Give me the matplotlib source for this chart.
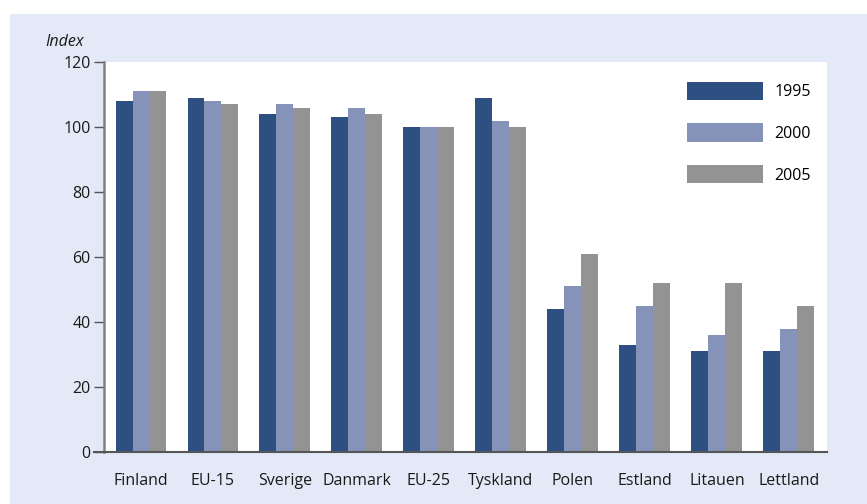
import numpy as np
import matplotlib
matplotlib.use("Agg")
import matplotlib.pyplot as plt
from matplotlib.patches import Rectangle

plt.rcParams['font.family'] = ['Open Sans', 'DejaVu Sans']

countries = ["Finland", "EU-15", "Sverige", "Danmark", "EU-25",
             "Tyskland", "Polen", "Estland", "Litauen", "Lettland"]
years = ["1995", "2000", "2005"]
idx_1995 = [108, 109, 104, 103, 100, 109, 44, 33, 31, 31]
idx_2000 = [111, 108, 107, 106, 100, 102, 51, 45, 36, 38]
idx_2005 = [111, 107, 106, 104, 100, 100, 61, 52, 52, 45]
yticks = [0, 20, 40, 60, 80, 100, 120]

colors = ["#2e4f82", "#8593b8", "#939393"]
bg = "#e3e9f6"
fs = 11.5

fig = plt.figure(figsize=(8.67, 5.04), dpi=100)
fig.patch.set_facecolor("white")
# light blue panel behind the chart
fig.patches.append(Rectangle((10 / 867, 0), 1, 1 - 14 / 504, transform=fig.transFigure,
                             facecolor=bg, edgecolor="none", zorder=-10))

ax = fig.add_axes([104 / 867, 52 / 504, 723 / 867, 390 / 504])
ax.set_facecolor("white")

x = np.arange(len(countries))
w = 0.236
for k, (vals, lab) in enumerate(zip([idx_1995, idx_2000, idx_2005], years)):
    ax.bar(x + (k - 1) * w, vals, width=w, color=colors[k], label=lab, zorder=2)

ax.set_xlim(-0.514, 9.53)
ax.set_ylim(0, 120)
ax.set_yticks(yticks)
ax.set_xticks(x)
ax.set_xticklabels(countries)

for s in ["top", "right", "bottom"]:
    ax.spines[s].set_visible(False)
ax.spines["left"].set_color("#7f7f7f")
ax.spines["left"].set_linewidth(1.8)
# x axis line reaches out past the y axis, like a tick
ax.axhline(0, xmin=-0.014, xmax=1, color="#555555", lw=1.5, clip_on=False, zorder=3)

ax.tick_params(axis="y", length=7.5, width=1, color="#555555", labelsize=fs,
               labelcolor="#1a1a1a", pad=2)
ax.tick_params(axis="x", length=0, labelsize=fs, labelcolor="#1a1a1a", pad=15)

fig.text(45 / 867, 1 - 42 / 504, "Index", style="italic", fontsize=fs,
         color="#1a1a1a", va="center", ha="left")

ax.legend(loc="upper left", bbox_to_anchor=(0.806, 0.949), frameon=False,
          handlelength=4.8, handleheight=1.38, labelspacing=1.45,
          handletextpad=0.7, borderpad=0, borderaxespad=0, fontsize=fs)

plt.savefig("out.png", dpi=100)
